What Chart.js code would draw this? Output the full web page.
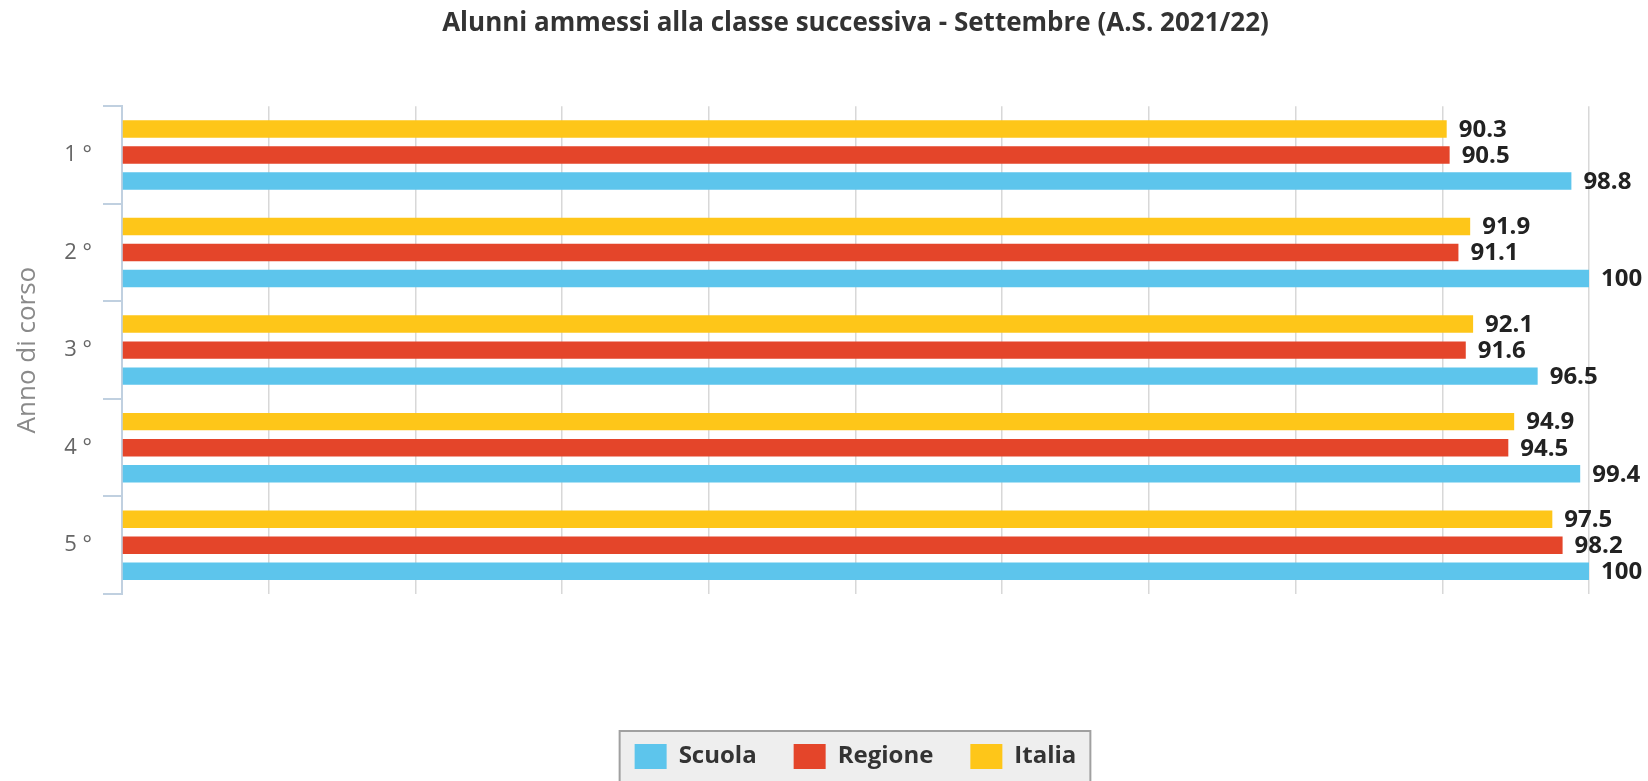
<!DOCTYPE html>
<html>
<head>
<meta charset="utf-8">
<script src="https://cdn.jsdelivr.net/npm/chart.js@4/dist/chart.umd.min.js"></script>
<style>
  html, body { margin: 0; padding: 0; background: #fff; }
  #wrap { width: 1648px; height: 781px; }
</style>
</head>
<body>
<div id="wrap"><canvas id="chart"></canvas></div>
<script>
const categories = ["1 °", "2 °", "3 °", "4 °", "5 °"];
const italia = [90.3, 91.9, 92.1, 94.9, 97.5];
const regione = [90.5, 91.1, 91.6, 94.5, 98.2];
const scuola = [98.8, 100, 96.5, 99.4, 100];

const FONT = "'Open Sans', 'DejaVu Sans', sans-serif";

// valori a destra delle barre
const valueLabels = {
  id: 'valueLabels',
  afterDatasetsDraw(chart) {
    const ctx = chart.ctx;
    ctx.save();
    ctx.font = "bold 24px " + FONT;
    ctx.fillStyle = "#222";
    ctx.textBaseline = "middle";
    ctx.textAlign = "left";
    chart.data.datasets.forEach((ds, i) => {
      chart.getDatasetMeta(i).data.forEach((bar, j) => {
        ctx.fillText(String(ds.data[j]), bar.x + 12, bar.y + 1);
      });
    });
    ctx.restore();
  }
};

// riquadro grigio dietro la legenda
const legendBox = {
  id: 'legendBox',
  beforeDraw(chart) {
    const boxes = chart.legend && chart.legend.legendHitBoxes;
    if (!boxes || !boxes.length) return;
    const first = boxes[0], last = boxes[boxes.length - 1];
    const x0 = first.left - 15;
    const x1 = last.left + last.width + 14;
    const y0 = first.top - 13;
    const ctx = chart.ctx;
    ctx.save();
    ctx.fillStyle = "#eeeeee";
    ctx.fillRect(x0, y0, x1 - x0, 80);
    ctx.strokeStyle = "#a0a0a0";
    ctx.lineWidth = 2;
    ctx.strokeRect(x0, y0, x1 - x0, 80);
    ctx.restore();
  }
};

new Chart(document.getElementById("chart"), {
  type: "bar",
  data: {
    labels: categories,
    datasets: [
      { label: "Italia", data: italia, backgroundColor: "#FEC619", borderWidth: 0 },
      { label: "Regione", data: regione, backgroundColor: "#E4452A", borderWidth: 0 },
      { label: "Scuola", data: scuola, backgroundColor: "#5DC5EC", borderWidth: 0 }
    ]
  },
  options: {
    indexAxis: "y",
    responsive: true,
    maintainAspectRatio: false,
    animation: false,
    layout: { padding: { left: 0, right: 59, top: 0, bottom: 2 } },
    datasets: { bar: { categoryPercentage: 0.8, barPercentage: 0.67 } },
    scales: {
      x: {
        min: 0, max: 100,
        ticks: { display: false, stepSize: 10 },
        grid: { color: "#d8d8d8", lineWidth: 1.5, drawTicks: false },
        border: { display: false },
        afterFit(scale) { scale.height = 113; }
      },
      y: {
        ticks: { color: "#666", font: { family: FONT, size: 22 }, padding: 11 },
        grid: { offset: true, drawOnChartArea: false, tickLength: 19, color: "#c0d0e0", lineWidth: 2 },
        border: { color: "#c0d0e0", width: 2 },
        title: {
          display: true, text: "Anno di corso", color: "#8a8a8a",
          font: { family: FONT, size: 26 }, padding: { top: 12, bottom: 0 }
        },
        afterFit(scale) { scale.width = 122; }
      }
    },
    plugins: {
      title: {
        display: true,
        fullSize: false,
        text: "Alunni ammessi alla classe successiva - Settembre (A.S. 2021/22)",
        color: "#333",
        font: { family: FONT, size: 26, weight: "bold" },
        padding: { top: 8, bottom: 67 }
      },
      legend: {
        position: "bottom",
        fullSize: false,
        reverse: true,
        labels: {
          color: "#333",
          font: { family: FONT, size: 24, weight: "bold" },
          boxWidth: 32, boxHeight: 25, padding: 37
        }
      },
      tooltip: { enabled: false }
    }
  },
  plugins: [valueLabels, legendBox]
});
</script>
</body>
</html>
